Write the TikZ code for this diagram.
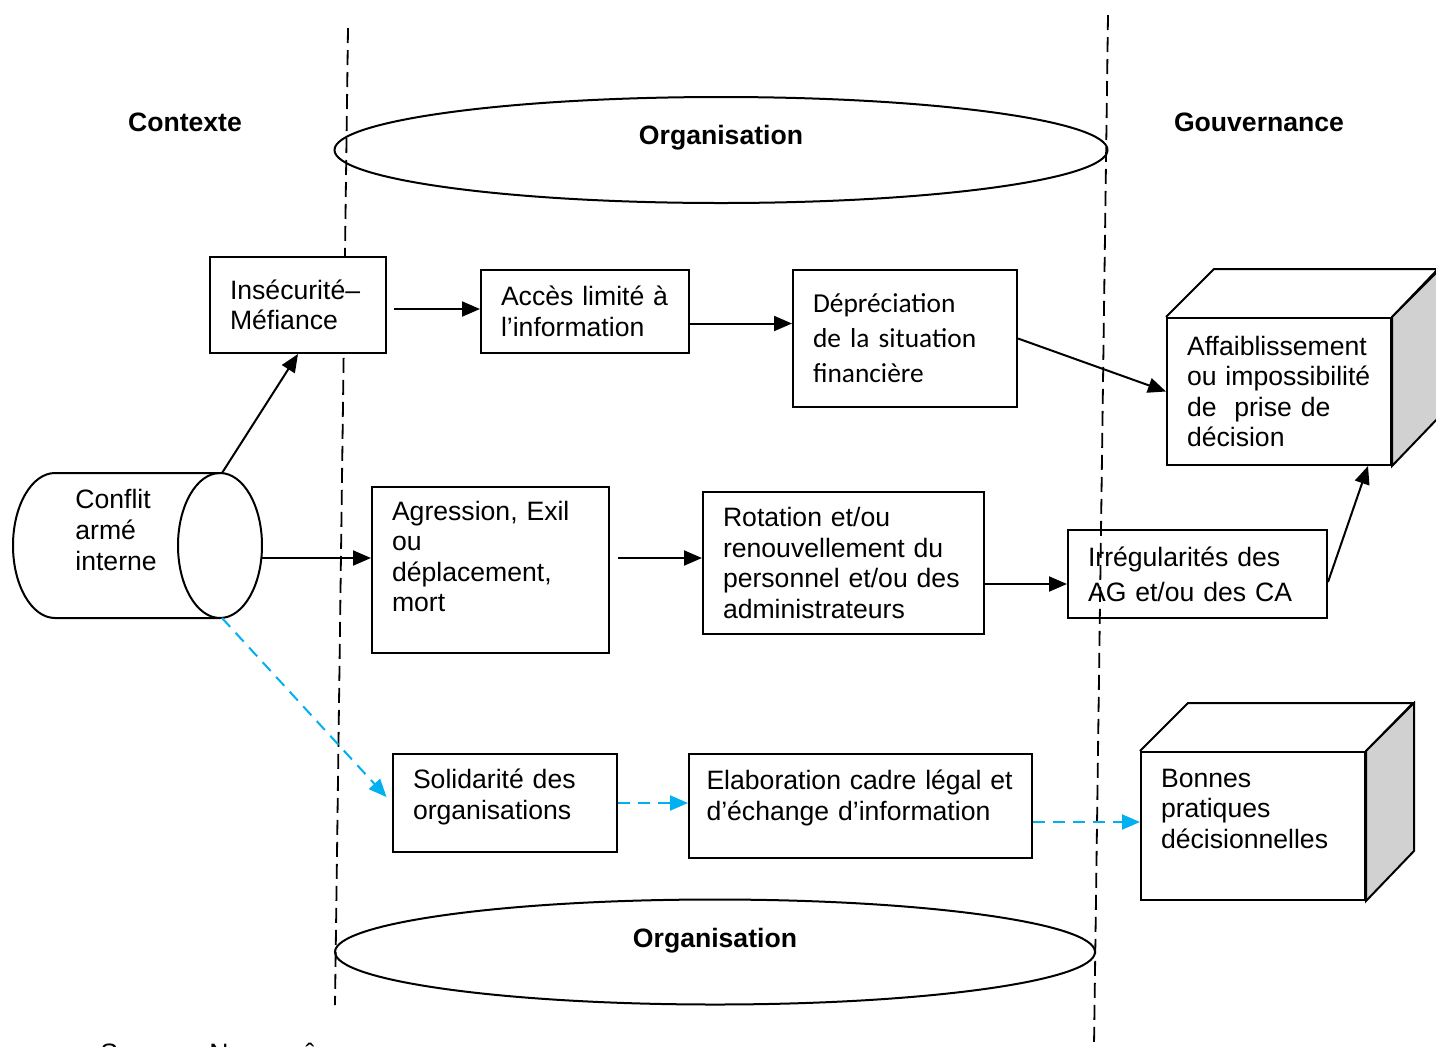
\documentclass[tikz,border=0pt]{standalone}
\usepackage{fontspec}
\setmainfont{Liberation Sans}
\newfontfamily\calibrifont{Carlito}
\usetikzlibrary{arrows.meta,shapes.geometric}
\definecolor{linkblue}{RGB}{0,176,240}
\definecolor{sideshade}{rgb}{0.82,0.82,0.82}

\begin{document}
\begin{tikzpicture}[x=0.5, y=-0.5,
  box/.style={draw, line width=1pt, fill=white, align=left, inner xsep=10pt, inner ysep=0pt,
    font=\fontsize{13.3}{15.3}\selectfont},
  raise/.style={text depth=#1},
  title/.style={font=\fontsize{13.3}{15}\selectfont\bfseries},
  arr/.style={line width=1pt, -{Triangle[length=9pt,width=7.5pt]}},
  bluearr/.style={arr, color=linkblue, dash pattern=on 6pt off 4pt},
  divider/.style={line width=0.9pt, dash pattern=on 7.5pt off 3.5pt},
  cube/.style={line width=1pt}]
\useasboundingbox (0,0) rectangle (1436,1046);

% dashed borders of the organisation
\coordinate (ltop) at (348,28);
\coordinate (lbot) at (335,1005);
\coordinate (rtop) at (1108,15);
\coordinate (rbot) at (1094,1046);
\draw[divider] (ltop) -- (lbot);
\draw[divider] (rtop) -- (rbot);

% column titles
\node[title] (ctx) at (185,122) {Contexte};
\node[title] (gouv) at (1259,122) {Gouvernance};
\node[draw, ellipse, line width=1pt, minimum width=386.5pt, minimum height=53pt, inner sep=0pt] (orgtop) at (721,150) {};
\node[title] (orgtoplbl) at (721,138) {Organisation};
\node[draw, ellipse, line width=1pt, minimum width=380pt, minimum height=52.5pt, inner sep=0pt] (orgbot) at (715,952) {};
\node[title] (orgbotlbl) at (715,941) {Organisation};

% cylinder
\draw[line width=1pt] (220,473) -- (55,473) arc [start angle=270, end angle=90, x radius=42, y radius=72.5] -- (220,618);
\draw[line width=1pt] (220,545.5) ellipse [x radius=42, y radius=72.5];
\node[align=left, anchor=west, inner sep=0pt, font=\fontsize{13.3}{15.3}\selectfont] (conflit) at (75,530) {Conflit\\armé\\interne};
\coordinate (cyltop) at (222,473);
\coordinate (cylright) at (262,558);
\coordinate (cylbot) at (222,618);

% first row
\node[box, text width=68pt, minimum height=48pt] (ins) at (298,305) {Insécurité–\\Méfiance};
\node[box, text width=84pt, minimum height=41.5pt] (acc) at (585,311.5) {Accès limité à\\l’information};
\node[box, text width=92pt, minimum height=68.5pt, font=\calibrifont\fontsize{13.7}{17.5}\selectfont] (dep) at (905,338.5) {Dépréciation\\de la situation\\financière};
\node[box, text width=92pt, minimum height=73.5pt] (aff) at (1279,391.5) {Affaiblissement\\ou impossibilité\\de\ \ prise de\\décision};
\draw[cube] (aff.north west) -- ++(48,-48) -- ++(224,0) -- (aff.north east);
\filldraw[cube, fill=sideshade] (aff.north east) -- ++(48,-48) -- ++(0,147) -- (aff.south east) -- cycle;

% second row
\node[box, text width=98.5pt, minimum height=83pt, raise=59.5pt] (agr) at (490.5,570) {Agression, Exil\\ou\\déplacement,\\mort};
\node[box, text width=120.5pt, minimum height=71pt] (rot) at (843.5,563) {Rotation et/ou\\renouvellement du\\personnel et/ou des\\administrateurs};
\node[box, fill=none, text width=109.5pt, minimum height=44pt, font=\fontsize{13.3}{17.5}\selectfont] (irr) at (1197.5,574) {Irrégularités des\\AG et/ou des CA};

% third row
\node[box, text width=92pt, minimum height=49pt, raise=24pt] (sol) at (505,803) {Solidarité des\\organisations};
\node[box, text width=154pt, inner xsep=8.75pt, minimum height=52pt, raise=26pt] (ela) at (860.5,806) {Elaboration cadre légal et\\d’échange d’information};
\node[box, text width=92pt, minimum height=74pt, raise=48pt] (bon) at (1253,826) {Bonnes\\pratiques\\décisionnelles};
\draw[cube] (bon.north west) -- ++(48,-48) -- ++(225,0) -- (bon.north east);
\filldraw[cube, fill=sideshade] (bon.north east) -- ++(48,-48) -- ++(0,148) -- (bon.south east) -- cycle;

% connectors
\draw[arr] (cyltop) -- (ins.south);
\draw[arr, shorten <=3.5pt] ([yshift=-2pt]ins.east) -- ([yshift=-2pt]ins.east -| acc.west);
\draw[arr] ([yshift=-6pt]acc.east) -- ([yshift=-6pt]acc.east -| dep.west);
\draw[arr] (dep.east) -- (aff.west);
\draw[arr] (cylright) -- (cylright -| agr.west);
\draw[arr] ([xshift=4pt]agr.east |- cylright) -- (cylright -| rot.west);
\draw[arr] ([yshift=-10.5pt]rot.east) -- ([yshift=-10.5pt]rot.east -| irr.west);
\draw[arr] ([yshift=-4pt]irr.east) -- ([xshift=-12pt]aff.south east);
\draw[bluearr, shorten >=4pt] (cylbot) -- (sol.west);
\draw[bluearr] (sol.east) -- (sol.east -| ela.west);
\draw[bluearr] ([yshift=-8pt]ela.east) -- ([yshift=-8pt]ela.east -| bon.west);

\node[anchor=base west, inner sep=0pt, font=\fontsize{13.3}{15.3}\selectfont] (src) at (100,1062) {Source : Nous-mêmes};
\end{tikzpicture}
\end{document}
